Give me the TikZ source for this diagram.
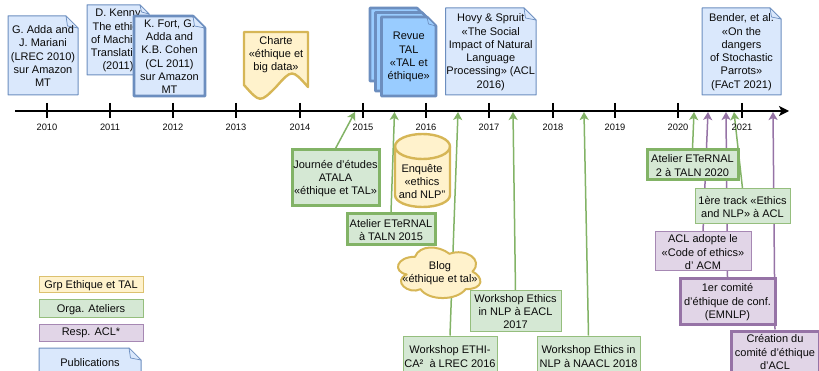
\documentclass[tikz,border=0pt]{standalone}
\usepackage{fontspec}
\setmainfont{Liberation Sans}
\usetikzlibrary{arrows.meta}
\pgfdeclarelayer{bg}
\pgfsetlayers{bg,main}
\definecolor{bluefill}{HTML}{DAE8FC}
\definecolor{bluedraw}{HTML}{6C8EBF}
\definecolor{skyfill}{HTML}{99CCFF}
\definecolor{greenfill}{HTML}{D5E8D4}
\definecolor{greendraw}{HTML}{82B366}
\definecolor{yellowfill}{HTML}{FFF2CC}
\definecolor{yellowdraw}{HTML}{D6B656}
\definecolor{purplefill}{HTML}{E1D5E7}
\definecolor{purpledraw}{HTML}{9673A6}
\definecolor{inktext}{HTML}{0A0A0A}
\tikzset{
  txt/.style={inner sep=0pt,align=center,text=inktext,font=\fontsize{11}{13.3}\selectfont},
  yeartxt/.style={inner sep=0pt,text=inktext,font=\fontsize{9.3}{11}\selectfont},
  greenbox/.style={draw=greendraw!85,fill=greenfill,line width=1pt},
  greenthick/.style={draw=greendraw,fill=greenfill,line width=3pt},
  purplebox/.style={draw=purpledraw!85,fill=purplefill,line width=1pt},
  purplethick/.style={draw=purpledraw,fill=purplefill,line width=3pt},
  yellowbox/.style={draw=yellowdraw!85,fill=yellowfill,line width=1pt},
  yellowthick/.style={draw=yellowdraw,fill=yellowfill,line width=2.4pt},
  bluenote/.style={draw=bluedraw,fill=bluefill,line width=1pt,line join=round},
  bluethick/.style={draw=bluedraw,fill=bluefill,line width=2.6pt,line join=round},
  skynote/.style={draw=bluedraw,fill=skyfill,line width=2.6pt,line join=round},
  greenlink/.style={draw=greendraw,line width=1.5pt,-{Stealth[length=8pt,width=9pt,inset=2pt]}},
  purplelink/.style={draw=purpledraw,line width=1.5pt,-{Stealth[length=8pt,width=9pt,inset=2pt]}},
  axisline/.style={draw=black,line width=1.5pt,-{Stealth[length=10pt,width=10pt,inset=2.5pt]}},
  tickline/.style={draw=black,line width=1.2pt},
}
\newcommand{\docnote}[8]{%
  \pgfmathsetmacro\xfold{#4-#6}%
  \pgfmathsetmacro\yfold{#3+#6}%
  \path[#7] (#2,#3)--(\xfold,#3)--(#4,\yfold)--(#4,#5)--(#2,#5)--cycle;
  \path[#7,line width=0.7pt] (\xfold,#3)--(\xfold+1.5,\yfold-2)--(#4,\yfold)--cycle;
  \node[txt] (#1) at ({(#2+#4)/2},{(#3+#5)/2+0.7}) {#8};
}
\newcommand{\labelbox}[7]{%
  \node[inner sep=0pt,#6,minimum width={#4-#2},minimum height={#5-#3}] (#1) at ({(#2+#4)/2},{(#3+#5)/2}) {};
  \node[txt] (#1text) at ({(#2+#4)/2},{(#3+#5)/2+0.7}) {#7};
}
\begin{document}
\begin{tikzpicture}[x=1pt,y=-1pt]
\useasboundingbox (0,0) rectangle (819,371);
\clip (0,0) rectangle (819,371);

% timeline
\coordinate (axisstart) at (15,111);
\coordinate (axisend) at (789,111);
\draw[axisline] (axisstart) -- (axisend);
\foreach \yr/\xx in {2010/47,2011/110,2012/173,2013/236,2014/300,2015/363,2016/426,2017/489,2018/553,2019/615,2020/678,2021/742}{
  \coordinate (tt\yr) at (\xx,103);
  \coordinate (tb\yr) at (\xx,118);
  \draw[tickline] (tt\yr) -- (tb\yr);
  \node[yeartxt] (y\yr) at (\xx,127) {\yr};
}

% arrow targets on the axis
\coordinate (aJ) at (355,112);
\coordinate (aE) at (394.5,112);
\coordinate (aW) at (458,112);
\coordinate (aX) at (513,112);
\coordinate (aN) at (584,112);
\coordinate (aT) at (694,112);
\coordinate (aK) at (734,112);
\coordinate (aC) at (708,112);
\coordinate (aF) at (726,112);
\coordinate (aA) at (773,112);

% publications
\docnote{adda}{8}{16}{78}{95}{12}{bluenote}{G. Adda and\\J. Mariani\\(LREC 2010)\\sur Amazon\\MT}
\docnote{kenny}{87}{5}{149}{75}{9}{bluenote}{D. Kenny\\The ethics\\of Machine\\Translation\\(2011)}
\docnote{fort}{134}{16}{205}{96}{12}{bluethick}{K. Fort, G.\\Adda and\\K.B. Cohen\\(CL 2011)\\sur Amazon\\MT}

% charte
\path[yellowthick,line join=round] (244,32) -- (308,32) -- (308,87)
   .. controls (292,69) .. (276,87) .. controls (260,103) .. (244,85) -- cycle;
\node[txt] (charte) at (276,54.5) {Charte\\«éthique et\\big data»};

% revue
\path[skynote] (370,8)--(417,8)--(426,17)--(426,81)--(370,81)--cycle;
\path[skynote] (375.5,12.5)--(422,12.5)--(431,21.5)--(431,91)--(375.5,91)--cycle;
\docnote{revue}{381.5}{17}{436}{96}{9}{skynote}{Revue\\TAL\hspace{5pt}\\«TAL et\\éthique»}

\docnote{hovy}{445.5}{8}{536}{95}{12}{bluenote}{Hovy \& Spruit\\«The Social\\Impact of Natural\\Language\\Processing» (ACL\\2016)}
\docnote{bender}{702}{8}{781}{95}{11}{bluenote}{Bender, et al.\\«On the\\dangers\\of Stochastic\\Parrots»\hspace{6pt}\\(FAcT 2021)}

% enquete
\path[yellowthick]
  (395,146.5) .. controls (395,139.6) and (407.3,134) .. (422.5,134)
  .. controls (437.7,134) and (450,139.6) .. (450,146.5) -- (450,195)
  .. controls (450,201.9) and (437.7,207) .. (422.5,207)
  .. controls (407.3,207) and (395,201.9) .. (395,195) -- cycle;
\draw[draw=yellowdraw,line width=2.4pt]
  (395,146.5) .. controls (395,153.4) and (407.3,159) .. (422.5,159)
  .. controls (437.7,159) and (450,153.4) .. (450,146.5);
\node[txt] (enquete) at (422,181.7) {Enquête\\«ethics\\and NLP"};

% blog cloud
\path[yellowthick,line width=2pt,line join=round]
  (415,256.75)
  .. controls (396.6,256.75) and (392,271.5) .. (406.72,274.45)
  .. controls (392,281) and (408.56,295.1) .. (420.52,289.2)
  .. controls (428.8,301) and (456.4,301) .. (465.6,289.2)
  .. controls (484,289.2) and (484,277.4) .. (472.5,271.5)
  .. controls (484,259.7) and (465.6,247.9) .. (449.5,253.8)
  .. controls (438,244.95) and (419.6,244.95) .. (415,256.75) -- cycle;
\node[txt] (blog) at (440,273) {Blog\\«éthique et tal»};

% green boxes
\labelbox{journee}{292}{150}{379}{206}{greenthick}{Journée d'études\\ATALA\\«éthique et TAL»}
\labelbox{eternala}{347}{214}{435}{245}{greenthick}{Atelier ETeRNAL\\à TALN 2015}
\labelbox{ethica}{403}{336}{497}{376}{greenbox}{Workshop ETHI-\\CA²\ \ à LREC 2016}
\labelbox{eacl}{470}{291}{561}{331}{greenbox}{Workshop Ethics\\in NLP à EACL\\2017}
\labelbox{naacl}{537}{336}{640}{376}{greenbox}{Workshop Ethics in\\NLP à NAACL 2018}
\labelbox{eternalb}{647}{150}{738}{180}{greenthick}{Atelier ETeRNAL\\2 à TALN 2020}
\labelbox{track}{695}{189}{790}{224}{greenbox}{1ère track «Ethics\\and NLP» à ACL}

% purple boxes
\labelbox{code}{655}{232}{751}{271}{purplebox}{ACL adopte le\\«Code of ethics»\\d' ACM}
\labelbox{comite}{680}{279}{775}{324}{purplethick}{1er comité\\d'éthique de conf.\\(EMNLP)}
\labelbox{creation}{731}{331}{819}{372}{purplethick}{Création du\\comité d'éthique\\d'ACL}

% legend
\labelbox{leggrp}{39}{277}{143}{293}{yellowbox}{Grp Ethique et TAL}
\labelbox{legorga}{39}{300}{143}{317}{greenbox}{Orga. Ateliers}
\labelbox{legresp}{39}{324}{143}{341}{purplebox}{Resp. ACL*}
\docnote{legpub}{39}{348}{141}{376}{12}{bluenote}{Publications}

% connectors, behind the boxes
\begin{pgfonlayer}{bg}
\draw[greenlink] (journee.north) -- (aJ);
\draw[greenlink] (eternala.north) -- (aE);
\draw[greenlink] (ethica.north) -- (aW);
\draw[greenlink] (eacl.north) -- (aX);
\draw[greenlink] (naacl.north) -- (aN);
\draw[greenlink] (eternalb.north) -- (aT);
\draw[greenlink] (track.north) -- (aK);
\draw[purplelink] (code.north) -- (aC);
\draw[purplelink] (comite.north) -- (aF);
\draw[purplelink] (creation.north) -- (aA);
\end{pgfonlayer}
\end{tikzpicture}
\end{document}
